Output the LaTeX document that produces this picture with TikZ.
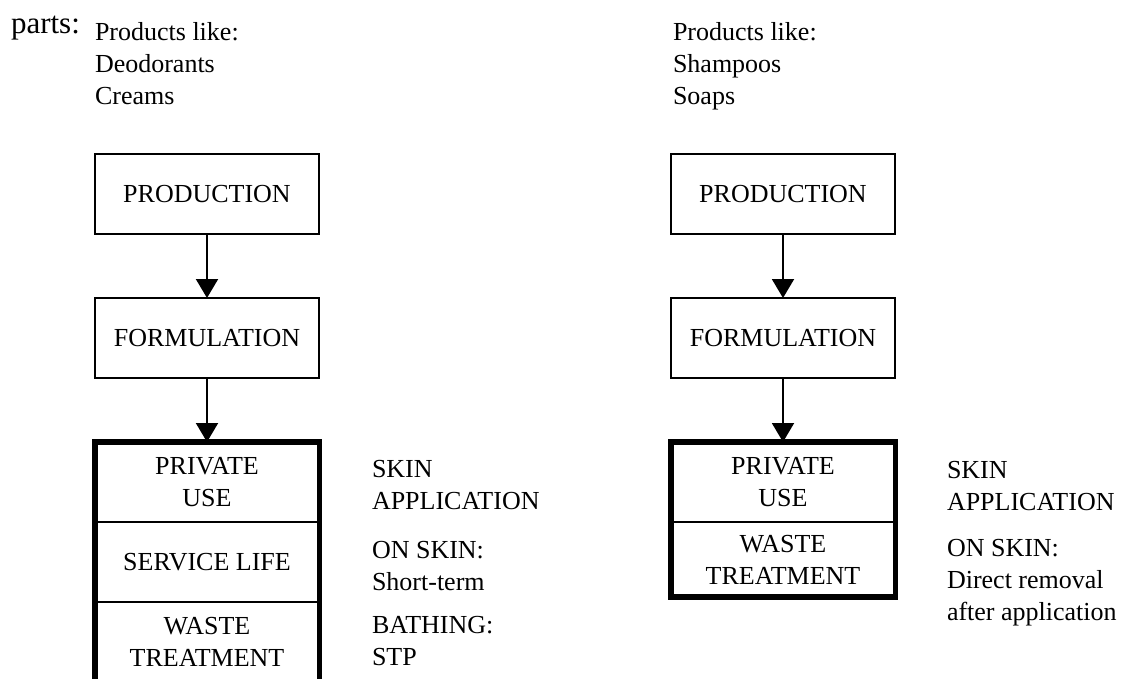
\documentclass[tikz,border=0pt]{standalone}
\usepackage{fontspec}
\setmainfont{Liberation Serif}
\usetikzlibrary{arrows.meta}
\begin{document}
\begin{tikzpicture}[x=1pt,y=-1pt,
  every node/.style={font=\fontsize{26}{32}\selectfont, inner sep=0pt, outer sep=0pt},
  stagebox/.style={draw, line width=2pt, minimum width=224pt, minimum height=80pt, align=center},
  lifebox/.style={draw, line width=5.5pt, minimum width=224.5pt},
  section/.style={minimum width=224pt, align=center},
  flow/.style={line width=2pt, -{Triangle[width=22pt,length=19pt]}},
  note/.style={anchor=base west, align=left},
  divider/.style={line width=1.5pt}]
\useasboundingbox (0,0) rectangle (1125,678);
\clip (0,0) rectangle (1125,678);

% heading word
\node[anchor=base west, font=\fontsize{31}{36}\selectfont] (parts) at (11,33) {parts:};

% ---- left chain: leave-on products ----
% multi-line notes are placed by the baseline of their last line
\node[note] (prodsL) at (95,104) {Products like:\\Deodorants\\Creams};
\node[stagebox] (prodL) at (207,194) {PRODUCTION};
\node[stagebox] (formL) at (207,338) {FORMULATION};
\node[lifebox, minimum height=240pt] (lifeL) at (207,562) {};
\node[section, minimum height=80pt] (useL) at (207,482) {PRIVATE\\USE};
\node[section, minimum height=80pt] (servL) at (207,562) {SERVICE LIFE};
\node[section, minimum height=80pt] (wasteL) at (207,642) {WASTE\\TREATMENT};
\draw[divider] (useL.south west) -- (useL.south east);
\draw[divider] (servL.south west) -- (servL.south east);
\draw[flow] (prodL) -- (formL);
\draw[flow] (formL) -- (lifeL);

\node[note] (skinL) at (372,509) {SKIN\\APPLICATION};
\node[note] (onskinL) at (372,590) {ON SKIN:\\Short-term};
\node[note] (bathL) at (372,665) {BATHING:\\STP};

% ---- right chain: rinse-off products ----
\node[note] (prodsR) at (673,104) {Products like:\\Shampoos\\Soaps};
\node[stagebox] (prodR) at (783,194) {PRODUCTION};
\node[stagebox] (formR) at (783,338) {FORMULATION};
\node[lifebox, minimum height=155pt] (lifeR) at (783,519.5) {};
\node[section, minimum height=80pt] (useR) at (783,482) {PRIVATE\\USE};
\node[section, minimum height=75pt] (wasteR) at (783,559.5) {WASTE\\TREATMENT};
\draw[divider] (useR.south west) -- (useR.south east);
\draw[flow] (prodR) -- (formR);
\draw[flow] (formR) -- (lifeR);

\node[note] (skinR) at (947,510) {SKIN\\APPLICATION};
\node[note] (onskinR) at (947,620) {ON SKIN:\\Direct removal\\after application};
\end{tikzpicture}
\end{document}
